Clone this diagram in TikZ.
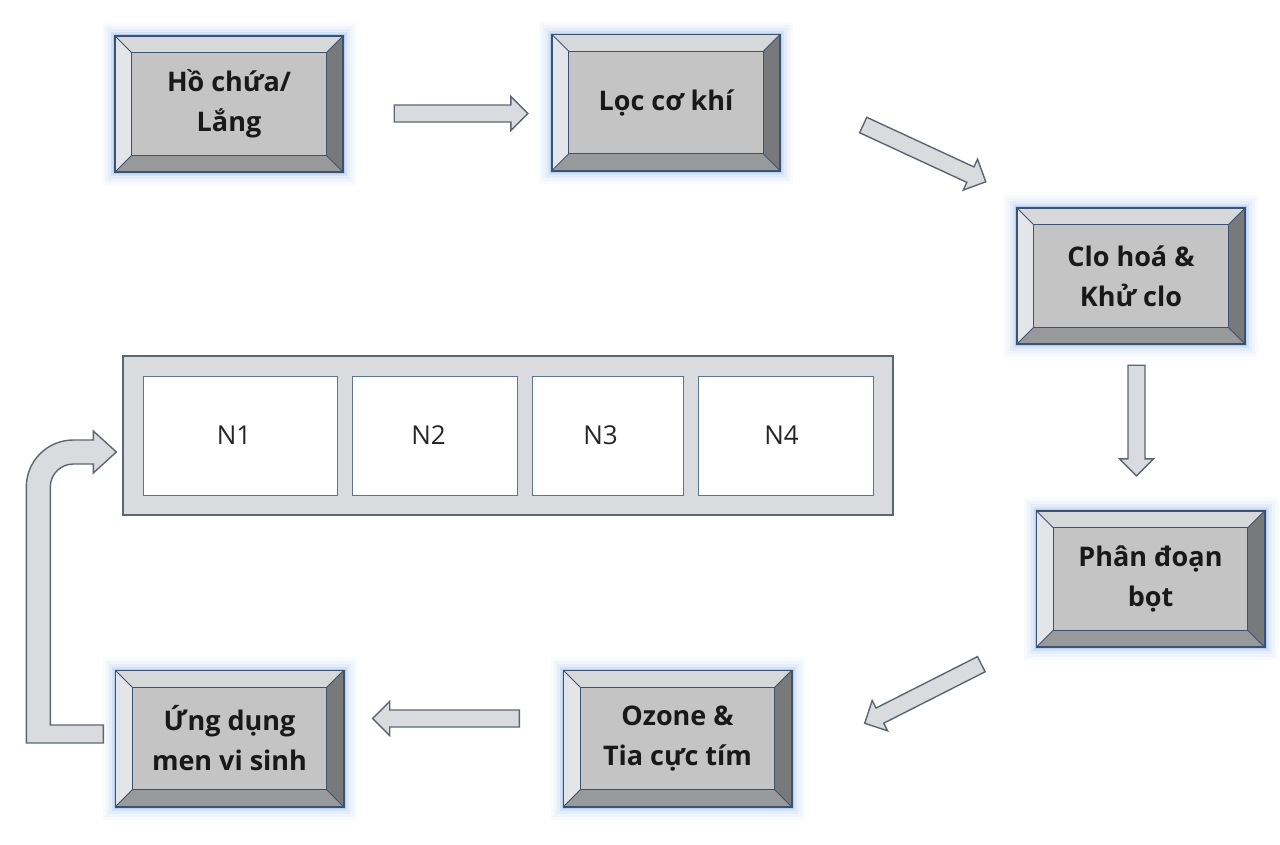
\documentclass[tikz,border=0pt]{standalone}
\usepackage{fontspec}
\setmainfont{Open Sans}
\usepackage{tikz}
\usetikzlibrary{calc}

\definecolor{faceg}{HTML}{C4C4C4}
\definecolor{topg}{HTML}{D7D8DA}
\definecolor{leftg}{HTML}{E3E5E9}
\definecolor{rightg}{HTML}{78797B}
\definecolor{bottomg}{HTML}{98999B}
\definecolor{edgeblue}{HTML}{3C5272}
\definecolor{glowblue}{HTML}{8FB2E6}
\definecolor{arrowg}{HTML}{D9DBDE}
\definecolor{arrowedge}{HTML}{5B6673}
\definecolor{celledge}{HTML}{5E7590}

% bevel faces of a box, from its anchors
\newcommand{\bevel}[1]{%
	\fill[topg] (#1.north west)--(#1.north east)--($(#1.north east)+(-17,17)$)--($(#1.north west)+(17,17)$)--cycle;
	\fill[rightg] (#1.north east)--(#1.south east)--($(#1.south east)+(-17,-17)$)--($(#1.north east)+(-17,17)$)--cycle;
	\fill[bottomg] (#1.south east)--(#1.south west)--($(#1.south west)+(17,-17)$)--($(#1.south east)+(-17,-17)$)--cycle;
	\fill[leftg] (#1.south west)--(#1.north west)--($(#1.north west)+(17,17)$)--($(#1.south west)+(17,-17)$)--cycle;
	\draw[edgeblue, line width=1pt] ($(#1.north west)+(17,17)$) rectangle ($(#1.south east)+(-17,-17)$);
	\draw[edgeblue, line width=1pt] (#1.north west)--($(#1.north west)+(17,17)$) (#1.north east)--($(#1.north east)+(-17,17)$)
		(#1.south east)--($(#1.south east)+(-17,-17)$) (#1.south west)--($(#1.south west)+(17,-17)$);
	\draw[edgeblue, line width=1.6pt] (#1.north west) rectangle (#1.south east);
}

% fat arrow from tail to tip
\newcommand{\blockarrow}[2]{%
	\coordinate (hb) at ($(#2)!17pt!(#1)$);
	\draw[block_arrow] ($(#1)!8.5pt!90:(#2)$)--($(hb)!8.5pt!90:(#2)$)--($(hb)!17pt!90:(#2)$)--(#2)
		--($(hb)!17pt!-90:(#2)$)--($(hb)!8.5pt!-90:(#2)$)--($(#1)!8.5pt!-90:(#2)$)--cycle;
}

\begin{document}
\begin{tikzpicture}[x=1pt, y=-1pt,
		step_box/.style={draw=edgeblue, fill=faceg, minimum width=228pt, minimum height=136pt, inner sep=0pt,
			align=center, font=\fontsize{27}{40}\selectfont\bfseries, text=black!90,
			preaction={draw=glowblue, line width=26pt, opacity=0.06, rounded corners=13pt},
			preaction={draw=glowblue, line width=20pt, opacity=0.08, rounded corners=10pt},
			preaction={draw=glowblue, line width=14pt, opacity=0.12, rounded corners=7pt},
			preaction={draw=glowblue, line width=8pt, opacity=0.2, rounded corners=4pt},
			preaction={draw=glowblue, line width=4pt, opacity=0.4}},
		block_arrow/.style={fill=arrowg, draw=arrowedge, line width=1.4pt, line join=miter},
		cell/.style={draw=celledge, fill=white, line width=1pt, minimum height=119pt, inner sep=0pt,
			font=\fontsize{26}{30}\selectfont, text=black!85}]
	% \draw[very thin, gray, dashed](0, 0)grid[step=50](1280, 844);
	\useasboundingbox (0, 0) rectangle (1280, 844);

	\node[step_box] (ho_chua) at (229, 104) {Hồ chứa/\\Lắng};
	\node[step_box] (loc_co_khi) at (666, 102.5) {Lọc cơ khí};
	\node[step_box] (clo_hoa) at (1131, 276) {Clo hoá \&\\Khử clo};
	\node[step_box] (phan_doan) at (1150.5, 579) {Phân đoạn\\bọt};
	\node[step_box] (ozone) at (677.5, 738.5) {Ozone \&\\Tia cực tím};
	\node[step_box] (men_vi_sinh) at (229.5, 738.5) {Ứng dụng\\men vi sinh};
	\bevel{ho_chua}
	\bevel{loc_co_khi}
	\bevel{clo_hoa}
	\bevel{phan_doan}
	\bevel{ozone}
	\bevel{men_vi_sinh}

	\node[draw=arrowedge, fill=arrowg, line width=1.4pt, minimum width=770pt, minimum height=159pt, inner sep=0pt] (tank) at (508, 435.5) {};
	\node[cell, minimum width=194pt] (n1) at (240, 435.5) {N1\kern12pt};
	\node[cell, minimum width=165pt] (n2) at (434.5, 435.5) {N2\kern12pt};
	\node[cell, minimum width=151pt] (n3) at (607.5, 435.5) {N3\kern14pt};
	\node[cell, minimum width=175pt] (n4) at (785.5, 435.5) {N4\kern8pt};

	\coordinate (a1_tail) at ($(ho_chua.east)+(51, 9.5)$);
	\coordinate (a1_tip) at ($(loc_co_khi.west)+(-24, 11)$);
	\coordinate (a2_tail) at ($(loc_co_khi.east)+(83, 22.5)$);
	\coordinate (a2_tip) at ($(clo_hoa.north west)+(-31, -26)$);
	\coordinate (a3_tail) at ($(clo_hoa.south)+(5.5, 21)$);
	\coordinate (a3_tip) at ($(phan_doan.north)+(-14, -35)$);
	\coordinate (a4_tail) at ($(phan_doan.south west)+(-55, 17)$);
	\coordinate (a4_tip) at ($(ozone.north east)+(73, 53)$);
	\coordinate (a5_tail) at ($(ozone.west)+(-44, -20)$);
	\coordinate (a5_tip) at ($(men_vi_sinh.east)+(29, -20)$);
	\blockarrow{a1_tail}{a1_tip}
	\blockarrow{a2_tail}{a2_tip}
	\blockarrow{a3_tail}{a3_tip}
	\blockarrow{a4_tail}{a4_tip}
	\blockarrow{a5_tail}{a5_tip}

	\draw[block_arrow] ($(tank.west)+(-6, 16.5)$)--++(-23, 21)--++(0, -9)--++(-20, 0)
		arc[start angle=270, end angle=180, radius=23]--++(0, 238)--++(53, 0)--++(0, 18)--++(-77, 0)--++(0, -256)
		arc[start angle=180, end angle=270, radius=47]--++(20, 0)--++(0, -9)--cycle;
\end{tikzpicture}
\end{document}
